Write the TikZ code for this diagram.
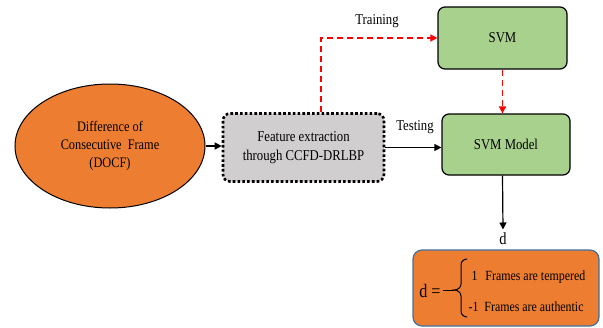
\documentclass[tikz,border=0pt]{standalone}
\usepackage{fontspec}
\setmainfont{Liberation Serif}[FakeStretch=0.85]
\usetikzlibrary{shapes.geometric,arrows.meta}
\definecolor{docforange}{HTML}{ED7D31}
\definecolor{svmgreen}{HTML}{A9D18E}
\definecolor{featgray}{HTML}{D0CECE}
\definecolor{outborder}{HTML}{41719C}
\begin{document}
\begin{tikzpicture}[x=1pt,y=-1pt,
  txt/.style={font=\fontsize{15}{19}\selectfont},
  svmbox/.style={draw, line width=1.2pt, rounded corners=7pt, fill=svmgreen,
    minimum width=129pt, minimum height=62pt, txt},
  arr/.style={-{Triangle[length=7pt,width=7pt]}, line width=1.2pt},
  redarr/.style={-{Triangle[length=7pt,width=7pt,fill=red]}, draw=red, dash pattern=on 6pt off 4pt, line width=1.5pt}]
\useasboundingbox (0,0) rectangle (603,327);
\fill[white] (0,0) rectangle (603,327);

\node[ellipse, draw, line width=1pt, fill=docforange, minimum width=190pt, minimum height=124pt,
  align=center, font=\fontsize{14.5}{18}\selectfont] (docf) at (110,146)
  {Difference of\\Consecutive\hspace{3pt} Frame\\(DOCF)};

\node[draw, line width=2.6pt, dash pattern=on 2.6pt off 2.2pt, rounded corners=7pt, fill=featgray,
  minimum width=161pt, minimum height=68pt, align=center, txt] (feat) at (303.5,147.5)
  {Feature extraction\\through CCFD-DRLBP};

\node[svmbox] (svm) at (502.5,38) {SVM};
\node[svmbox, minimum width=128pt, minimum height=61pt] (svmmodel) at (506,144.5) {SVM Model};

\node[draw=outborder, line width=1.2pt, rounded corners=9pt, fill=docforange,
  minimum width=186pt, minimum height=76pt] (out) at (506,288) {};

\node[txt] (train) at (377,21) {Training};
\node[txt] (test) at (415,127) {Testing};
\node[font=\fontsize{17}{19}\selectfont] (dl) at (503,239) {d};

\node[font=\fontsize{19}{21}\selectfont] (deq) at (430,291) {d =};
\node[anchor=west, font=\fontsize{14}{16}\selectfont] (t1) at (468,277) {1\hspace{8pt}Frames are tempered};
\node[anchor=west, font=\fontsize{14}{16}\selectfont] (t2) at (465,307) {-1\hspace{6pt}Frames are authentic};

% brace
\draw[line width=1pt] (443,290) -- (454,290);
\draw[line width=1pt] (467,259) to[out=180,in=90] (461,265) -- (461,284)
  to[out=270,in=0] (454,290) to[out=0,in=90] (461,296) -- (461,311)
  to[out=270,in=180] (467,317);

% connectors
\draw[arr] (docf.east) -- (feat.west |- docf.east);
\draw[redarr] ([xshift=17.5pt]feat.north) |- (svm.west);
\draw[redarr] (svm.south) -- (svm.south |- svmmodel.north);
\draw[arr] (feat.east) -- (feat.east -| svmmodel.west);
\draw[arr] (svmmodel.south -| svm.south) -- (dl.north);
\end{tikzpicture}
\end{document}
